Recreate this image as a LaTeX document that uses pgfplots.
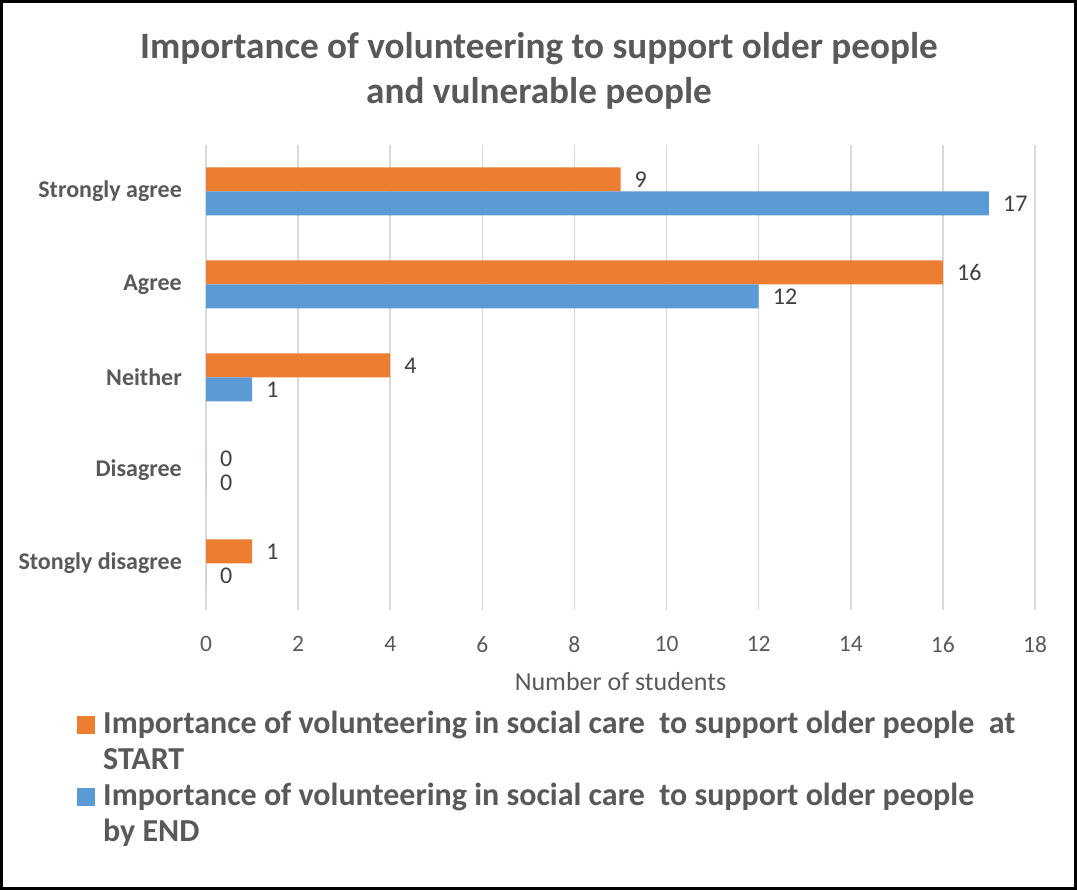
\documentclass[border=0pt]{standalone}
\usepackage{fontspec}
\setmainfont{Carlito}
\usepackage{pgfplots}
\pgfplotsset{compat=1.18}
\definecolor{cOrange}{RGB}{237,125,49}
\definecolor{cBlue}{RGB}{91,155,213}
\definecolor{cText}{RGB}{89,89,89}
\definecolor{cLab}{RGB}{64,64,64}
\definecolor{cGrid}{RGB}{217,217,217}
\begin{document}
\begin{tikzpicture}[x=1bp,y=1bp]
\useasboundingbox (0,0) rectangle (1077,890);
\draw[line width=3bp] (1.5,1.5) rectangle (1075.5,888.5);
\node[anchor=base, text=cText, font=\fontsize{37.2bp}{45bp}\selectfont\bfseries, inner sep=0] at (539,831) {Importance of volunteering to support older people};
\node[anchor=base, text=cText, font=\fontsize{37.2bp}{45bp}\selectfont\bfseries, inner sep=0] at (539,786) {and vulnerable people};
\begin{axis}[
  at={(206bp,280bp)}, anchor=south west,
  width=829bp, height=465bp, scale only axis,
  xmin=0, xmax=18, ymin=-0.5, ymax=4.5,
  xtick={0,2,...,18},
  ytick={0,1,2,3,4},
  yticklabels={Stongly disagree, Disagree, Neither, Agree, Strongly agree},
  /pgf/number format/assume math mode=true,
  xmajorgrids, grid style={cGrid, line width=1.5bp},
  axis line style={draw=none},
  major tick length=0pt,
  xticklabel style={font=\fontsize{23.5bp}{28bp}\selectfont, text=cText, inner sep=0, anchor=north, yshift=-26bp},
  yticklabel style={font=\fontsize{24bp}{29bp}\selectfont\bfseries, text=cText, inner sep=0, anchor=east, xshift=-24bp},
  xlabel={Number of students},
  xlabel style={font=\fontsize{26bp}{30bp}\selectfont, text=cText, inner sep=0, at={(axis description cs:0.5,0)}, anchor=north, yshift=-62bp},
  xbar, bar width=24bp,
  nodes near coords,
  nodes near coords style={font=\fontsize{24bp}{28bp}\selectfont, text=cLab, anchor=west, inner sep=0, xshift=14bp},
  legend style={at={(axis description cs:-0.1556,-0.2172)}, anchor=north west, draw=none, fill=none, inner sep=0pt, row sep=12bp, column sep=8bp,
    font=\fontsize{32bp}{36bp}\selectfont\bfseries, text=cText,
    cells={anchor=base west},
    nodes={align=left, inner sep=0pt}},
  legend image code/.code={\fill[#1] (0bp,36bp) rectangle (18bp,54bp);},
]
\addplot[fill=cOrange, draw=none, bar shift=12bp] coordinates {(1,0) (0,1) (4,2) (16,3) (9,4)};
\addplot[fill=cBlue, draw=none, bar shift=-12bp] coordinates {(0,0) (0,1) (1,2) (12,3) (17,4)};
\legend{{Importance of volunteering in social care~ to support older people~ at\\START},{Importance of volunteering in social care~ to support older people\\by END}}
\end{axis}
\end{tikzpicture}
\end{document}
